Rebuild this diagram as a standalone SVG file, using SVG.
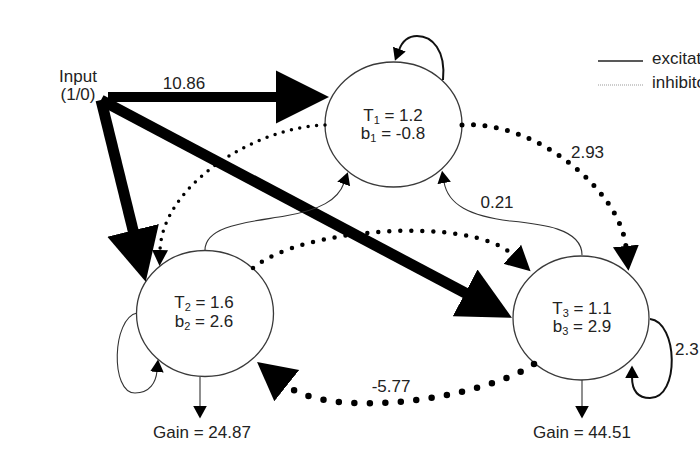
<svg xmlns="http://www.w3.org/2000/svg" width="700" height="452" viewBox="0 0 700 452">
<style>
text{font-family:"Liberation Sans",Arial,sans-serif;font-size:17px;fill:#222}
.c{text-anchor:middle}
.node{fill:#fff;stroke:#3a3a3a;stroke-width:1.3}
.thick{stroke:#000;fill:none}
.thin{stroke:#333;stroke-width:1.1;fill:none}
.loop{stroke:#111;stroke-width:2;fill:none}
.dot{stroke:#000;fill:none;stroke-linecap:round}
.sub{font-size:11px}
</style>
<defs>
<marker id="mBig" markerUnits="userSpaceOnUse" viewBox="0 -27 54 54" markerWidth="54" markerHeight="54" refX="1" refY="0" orient="auto"><path d="M0,-26.5L53,0L0,26.5z" fill="#000"/></marker>
<marker id="mDotBig" markerUnits="userSpaceOnUse" viewBox="0 -21 40 42" markerWidth="40" markerHeight="42" refX="1" refY="0" orient="auto"><path d="M0,-20L38,0L0,20z" fill="#000"/></marker>
<marker id="mDotMid" markerUnits="userSpaceOnUse" viewBox="0 -14 26 28" markerWidth="26" markerHeight="28" refX="1" refY="0" orient="auto"><path d="M0,-13L25,0L0,13z" fill="#000"/></marker>
<marker id="mDotS" markerUnits="userSpaceOnUse" viewBox="0 -9 18 18" markerWidth="18" markerHeight="18" refX="1" refY="0" orient="auto"><path d="M0,-8L16,0L0,8z" fill="#000"/></marker>
<marker id="mSmall" markerUnits="userSpaceOnUse" viewBox="0 -8 14 16" markerWidth="14" markerHeight="16" refX="1" refY="0" orient="auto"><path d="M0,-6.8L12.5,0L0,6.8z" fill="#000"/></marker>
</defs>
<rect width="700" height="452" fill="#fff"/>

<g id="node-input">
<text x="78" y="82" class="c">Input</text>
<text x="78" y="100" class="c">(1/0)</text>
</g>
<g id="node-T1">
<ellipse class="node" cx="393.5" cy="124.5" rx="68.5" ry="62.5"/>
<text x="393" y="121" class="c">T<tspan class="sub" dy="3">1</tspan><tspan dy="-3"> = 1.2</tspan></text>
<text x="393" y="139" class="c">b<tspan class="sub" dy="3">1</tspan><tspan dy="-3"> = -0.8</tspan></text>
</g>
<g id="node-T2">
<ellipse class="node" cx="205" cy="313.5" rx="68.5" ry="63"/>
<text x="204" y="308" class="c">T<tspan class="sub" dy="3">2</tspan><tspan dy="-3"> = 1.6</tspan></text>
<text x="204" y="326.5" class="c">b<tspan class="sub" dy="3">2</tspan><tspan dy="-3"> = 2.6</tspan></text>
</g>
<g id="node-T3">
<ellipse class="node" cx="581" cy="318" rx="68" ry="62"/>
<text x="582" y="313.5" class="c">T<tspan class="sub" dy="3">3</tspan><tspan dy="-3"> = 1.1</tspan></text>
<text x="582" y="332" class="c">b<tspan class="sub" dy="3">3</tspan><tspan dy="-3"> = 2.9</tspan></text>
</g>
<g id="node-gain2"><text x="202" y="438" class="c">Gain = 24.87</text></g>
<g id="node-gain3"><text x="582" y="438" class="c">Gain = 44.51</text></g>

<g id="connectors">
<path class="thick" stroke-width="10" d="M108,97L277,97" marker-end="url(#mBig)"/>
<path class="thick" stroke-width="11" d="M101,100L133.3,231.3" marker-end="url(#mBig)"/>
<path class="thick" stroke-width="11" d="M101,100L466,293.4" marker-end="url(#mBig)"/>
<path class="dot" stroke-width="5" stroke-dasharray="0 11.5" d="M462,125C535,120 620,190 626,247" marker-end="url(#mDotMid)"/>
<path class="dot" stroke-width="3.5" stroke-dasharray="0 8.5" d="M325,125C255,127 162,185 160,251" marker-end="url(#mDotS)"/>
<path class="dot" stroke-width="4.5" stroke-dasharray="0 11" d="M253,268C300,228 470,215 513,255" marker-end="url(#mDotMid)"/>
<path class="dot" stroke-width="6.5" stroke-dasharray="0 15.5" d="M534,364C480,400 330,420 286,385" marker-end="url(#mDotBig)"/>
<path class="thin" d="M205,250C205,225 250,222 285,216C320,210 338,200 344,183" marker-end="url(#mSmall)"/>
<path class="thin" d="M582,255C582,228 540,224 510,221C470,216 448,205 444,182" marker-end="url(#mSmall)"/>
<path class="loop" d="M443,80C446,50 432,36 417,36C408,36 402,42 399,50" marker-end="url(#mSmall)"/>
<path class="thin" stroke-width="1.3" d="M137,313C112,318 110,393 135,393C150,393 156,382 157,371" marker-end="url(#mSmall)"/>
<path class="loop" d="M650,319C678,322 680,398 650,398C636,398 632,388 632,377" marker-end="url(#mSmall)"/>
<path class="thin" d="M200,377L200,407" marker-end="url(#mSmall)"/>
<path class="thin" d="M582,380L582,407" marker-end="url(#mSmall)"/>
</g>

<g id="edge-labels">
<text x="184" y="89" class="c">10.86</text>
<text x="587.5" y="157.5" class="c">2.93</text>
<text x="497" y="208" class="c">0.21</text>
<text x="675" y="355">2.3</text>
<text x="391" y="392" class="c">-5.77</text>
</g>

<g id="legend">
<path d="M598,61H643" stroke="#222" stroke-width="1.5"/>
<path d="M598,85H643" stroke="#999" stroke-width="1" stroke-dasharray="1 1"/>
<text x="652" y="64">excitatory</text>
<text x="652" y="88">inhibitory</text>
</g>
</svg>
